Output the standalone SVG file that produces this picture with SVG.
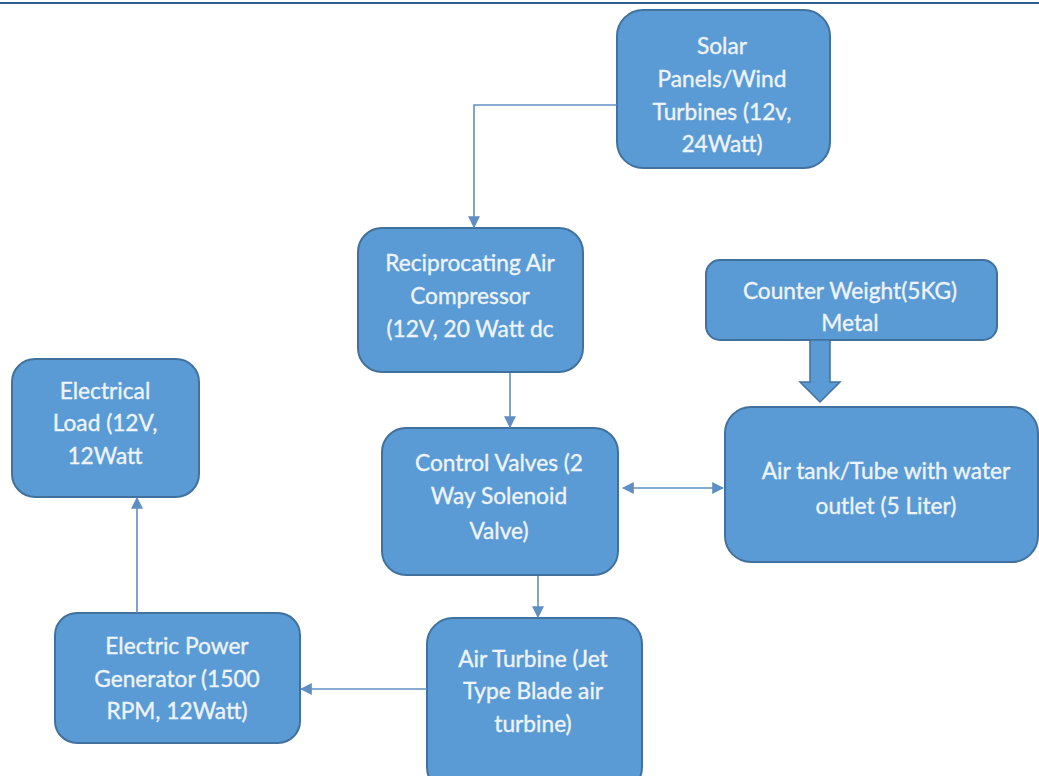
<svg xmlns="http://www.w3.org/2000/svg" width="1039" height="776" viewBox="0 0 1039 776">
<style>
.box{fill:#5b9bd5;stroke:#41719c;stroke-width:2}
.t{font-family:Lato,"Open Sans",sans-serif;font-size:22.7px;fill:#eef4fb;stroke:#eef4fb;stroke-width:0.35;text-anchor:middle;dominant-baseline:central}
.c{fill:none;stroke:#5f8fc2;stroke-width:1.6}
</style>
<defs>
<marker id="ah" viewBox="0 0 10 10" refX="9" refY="5" markerWidth="12" markerHeight="12" markerUnits="userSpaceOnUse" orient="auto-start-reverse">
<path d="M0,0 L10,5 L0,10 z" fill="#5f8fc2"/>
</marker>
</defs>
<rect x="0" y="0" width="1039" height="776" fill="#ffffff"/>
<line x1="0" y1="3" x2="1039" y2="3" stroke="#2f5f8f" stroke-width="2"/>
<g id="solar"><rect class="box" x="617" y="10" width="213" height="158" rx="26"/>
<text class="t" x="722" y="45">Solar</text><text class="t" x="722" y="78">Panels/Wind</text><text class="t" x="722" y="111">Turbines (12v,</text><text class="t" x="722" y="143">24Watt)</text></g>
<g id="compressor"><rect class="box" x="358" y="228" width="225" height="144" rx="24"/>
<text class="t" x="470" y="262">Reciprocating Air</text><text class="t" x="470" y="295">Compressor</text><text class="t" x="470" y="328">(12V, 20 Watt dc</text></g>
<g id="counterweight"><rect class="box" x="706" y="260" width="291" height="80" rx="14"/>
<text class="t" x="850" y="290">Counter Weight(5KG)</text><text class="t" x="850" y="322">Metal</text></g>
<g id="airtank"><rect class="box" x="725" y="407" width="313" height="155" rx="26"/>
<text class="t" x="886" y="470">Air tank/Tube with water</text><text class="t" x="886" y="505">outlet (5 Liter)</text></g>
<g id="valves"><rect class="box" x="382" y="428" width="236" height="147" rx="24"/>
<text class="t" x="499" y="462">Control Valves (2</text><text class="t" x="499" y="495">Way Solenoid</text><text class="t" x="499" y="530">Valve)</text></g>
<g id="load"><rect class="box" x="12" y="359" width="187" height="138" rx="23"/>
<text class="t" x="105" y="390">Electrical</text><text class="t" x="105" y="422">Load (12V,</text><text class="t" x="105" y="455">12Watt</text></g>
<g id="generator"><rect class="box" x="55" y="613" width="245" height="130" rx="22"/>
<text class="t" x="177" y="645">Electric Power</text><text class="t" x="177" y="678">Generator (1500</text><text class="t" x="177" y="710">RPM, 12Watt)</text></g>
<g id="turbine"><rect class="box" x="427" y="618" width="215" height="175" rx="26"/>
<text class="t" x="533" y="658">Air Turbine (Jet</text><text class="t" x="533" y="690">Type Blade air</text><text class="t" x="533" y="723">turbine)</text></g>
<g id="connectors">
<path class="c" d="M617,105 H474 V227" marker-end="url(#ah)"/>
<path class="c" d="M510,373 V427" marker-end="url(#ah)"/>
<path class="c" d="M538,576 V617" marker-end="url(#ah)"/>
<path class="c" d="M427,689 H301" marker-end="url(#ah)"/>
<path class="c" d="M137,613 V498" marker-end="url(#ah)"/>
<path class="c" d="M623,488 H723" marker-start="url(#ah)" marker-end="url(#ah)"/>
<path d="M810,340 H830 V382 H840 L820,402 L800,382 H810 Z" fill="#5b9bd5" stroke="#41719c" stroke-width="1.5"/>
</g>
</svg>
